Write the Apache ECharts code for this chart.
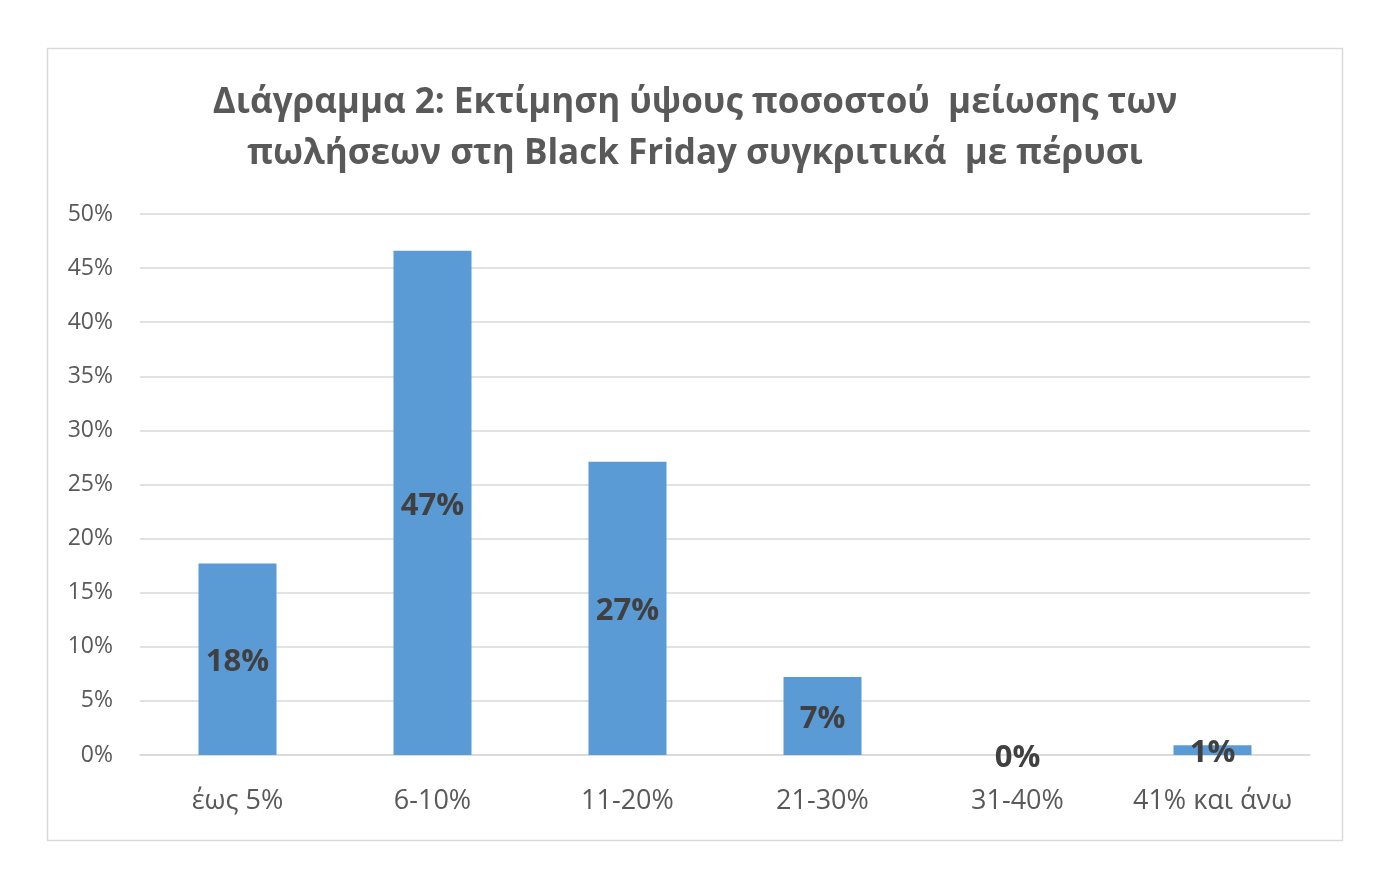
<!DOCTYPE html>
<html><head><meta charset="utf-8">
<script src="https://cdn.jsdelivr.net/npm/echarts@6/dist/echarts.min.js"></script>
<style>html,body{margin:0;padding:0;background:#fff}#c{width:1390px;height:890px}</style>
</head><body><div id="c"></div>
<script>
const titleText = 'Διάγραμμα 2: Εκτίμηση ύψους ποσοστού  μείωσης των\nπωλήσεων στη Black Friday συγκριτικά  με πέρυσι';
const categories = ['έως 5%', '6-10%', '11-20%', '21-30%', '31-40%', '41% και άνω'];
const values = [17.7, 46.6, 27.1, 7.2, 0, 0.9];
const labelValues = [18, 47, 27, 7, 0, 1];
const yTicks = [0, 5, 10, 15, 20, 25, 30, 35, 40, 45, 50];

const chart = echarts.init(document.getElementById('c'));
chart.setOption({
  animation: false,
  backgroundColor: '#fff',
  graphic: [{type: 'rect', shape: {x: 47.5, y: 48.5, width: 1295, height: 792}, style: {fill: 'none', stroke: '#d9d9d9', lineWidth: 1.5}}],
  title: {
    text: titleText, left: 'center', top: 73,
    textStyle: {fontFamily: 'Open Sans', fontWeight: 'bold', fontSize: 35, color: '#595959', lineHeight: 51}
  },
  grid: {left: 140, right: 80, top: 214, bottom: 135},
  xAxis: {
    type: 'category', data: categories,
    axisLine: {lineStyle: {color: '#d9d9d9', width: 1.5}},
    axisTick: {show: false},
    axisLabel: {color: '#595959', fontSize: 27, fontFamily: 'Open Sans', margin: 33, interval: 0}
  },
  yAxis: {
    type: 'value', min: yTicks[0], max: yTicks[yTicks.length - 1], interval: 5,
    axisLine: {show: false}, axisTick: {show: false},
    splitLine: {lineStyle: {color: '#d9d9d9', width: 1.5}},
    axisLabel: {color: '#595959', fontSize: 23, fontFamily: 'Open Sans', margin: 27, formatter: v => v + '%'}
  },
  series: [{
    type: 'bar', data: values, barWidth: '40%',
    itemStyle: {color: '#5b9bd5'},
    label: {
      show: true, position: 'inside', offset: [0, 3],
      color: '#404040', fontWeight: 'bold', fontSize: 31, fontFamily: 'Open Sans',
      formatter: p => labelValues[p.dataIndex] + '%'
    }
  }]
});
</script></body></html>
